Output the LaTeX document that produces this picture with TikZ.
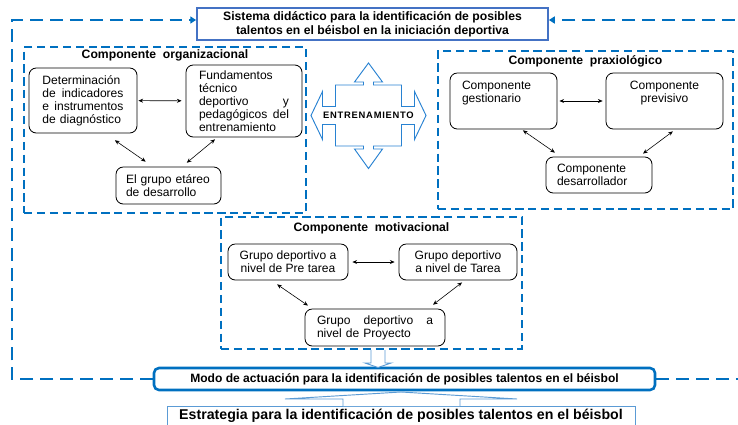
\documentclass[tikz,border=0pt]{standalone}
\usepackage{fontspec}
\setmainfont{Liberation Sans}
\usetikzlibrary{positioning,arrows.meta}

\definecolor{frameblue}{RGB}{0,112,192}
\definecolor{titleblue}{RGB}{68,114,196}
\definecolor{lightblue}{RGB}{91,155,213}
\definecolor{crossblue}{RGB}{40,130,210}

\tikzstyle{block} = [rectangle, rounded corners = 0.22cm, draw = black, 
	line width = 0.7pt, inner sep = 0pt, font = \fontsize{10.3}{11.2}\selectfont]
\tikzstyle{dashframe} = [rectangle, draw = frameblue, line width = 1.7pt, 
	dash pattern = on 7pt off 4pt]
\tikzstyle{frametitle} = [font = \fontsize{10.4}{12}\selectfont\bfseries]
\tikzstyle{loopline} = [draw = frameblue, line width = 2.2pt, 
	dash pattern = on 11pt off 6pt, -{Triangle[length = 5pt, width = 6pt]}]
\tikzstyle{arrow} = [line width = 0.5pt, 
	{Stealth[length = 4pt, width = 3.4pt]}-{Stealth[length = 4pt, width = 3.4pt]}]
\tikzstyle{blockarrow} = [draw = lightblue, line width = 0.8pt, fill = white]

\begin{document}
\begin{tikzpicture}[x = 0.03cm, y = -0.03cm]
\useasboundingbox (0,0) rectangle (738,424);

% frames of the three components
\node (OrgFrame) [dashframe, minimum width = 8.46cm, minimum height = 4.98cm] at (165,130) {};
\node (PraxFrame) [dashframe, minimum width = 8.85cm, minimum height = 4.74cm] at (585.5,130) {};
\node (MotFrame) [dashframe, minimum width = 9.03cm, minimum height = 3.96cm] at (371.5,283) {};

\node (OrgTitle) [frametitle, below = 0pt of OrgFrame.north] {Componente~~organizacional};
\node (PraxTitle) [frametitle, below = 1.4pt of PraxFrame.north] {Componente~~praxiológico};
\node (MotTitle) [frametitle, below = 2.2pt of MotFrame.north] {Componente~~motivacional};

\node (Sistema) [draw = titleblue, line width = 1.5pt, inner sep = 0pt, 
	minimum width = 10.53cm, minimum height = 0.96cm, align = center, 
	font = \fontsize{10.4}{12}\selectfont\bfseries] at (372.5,24)
	{Sistema didáctico para la identificación de posibles\\ talentos en el béisbol en la iniciación deportiva};

% Componente organizacional
\node (Det) [block, minimum width = 3.24cm, minimum height = 1.95cm, 
	text width = 2.43cm, align = left] at (83,100.5)
	{Determinación\\ de \hfill indicadores\\ e \hfill instrumentos\\ de diagnóstico};
\node (Fund) [block, minimum width = 3.48cm, minimum height = 2.16cm, 
	text width = 2.7cm, align = left] at (244,101)
	{Fundamentos\\ técnico\\ deportivo \hfill y\\ pedagógicos \hfill del\\ entrenamiento};
\node (Grupo) [block, minimum width = 3.15cm, minimum height = 1.11cm, 
	text width = 2.55cm, align = left] at (168.5,185.5)
	{El grupo etáreo\\ de desarrollo};

\draw [arrow, shorten <= 0.03cm, shorten >= 0.12cm] (Det) -- (Fund);
\draw [arrow, shorten <= 0.36cm, shorten >= 0.26cm] ([xshift = 0.66cm]Det.south) -- ([xshift = -0.47cm]Grupo.north);
\draw [arrow, shorten <= 0.09cm, shorten >= 0.18cm] ([xshift = -0.80cm]Fund.south) -- ([xshift = 0.41cm]Grupo.north);

% Componente praxiologico
\node (Gest) [block, minimum width = 3.21cm, minimum height = 1.68cm] at (503.5,101)
	{\parbox[t][1.2cm][t]{2.49cm}{Componente\\ gestionario}};
\node (Prev) [block, minimum width = 3.51cm, minimum height = 1.68cm] at (664.5,101)
	{\parbox[t][1.2cm][t]{3cm}{\centering Componente\\ previsivo}};
\node (Des) [block, minimum width = 3.18cm, minimum height = 1.08cm, 
	text width = 2.52cm, align = left] at (599,175)
	{Componente\\ desarrollador};

\draw [arrow, shorten <= 0.06cm, shorten >= 0.09cm] (Gest) -- (Prev);
\draw [arrow, shorten <= 0.05cm, shorten >= 0.21cm] ([xshift = 0.54cm]Gest.south) -- ([xshift = -1.15cm]Des.north);
\draw [arrow, shorten <= 0.1cm, shorten >= 0.15cm] ([xshift = 0.33cm]Prev.south) -- ([xshift = 1.20cm]Des.north);

% Componente motivacional
\node (Pre) [block, minimum width = 3.6cm, minimum height = 1.08cm, align = center] at (288,262)
	{Grupo deportivo a\\ nivel de Pre tarea};
\node (Tarea) [block, minimum width = 3.54cm, minimum height = 1.08cm, align = center] at (458,262)
	{Grupo deportivo\\ a nivel de Tarea};
\node (Proy) [block, minimum width = 4.2cm, minimum height = 1.11cm, 
	text width = 3.48cm, align = left] at (375,327.5)
	{Grupo \hfill deportivo \hfill a\\ nivel de Proyecto};

\draw [arrow, shorten <= 0.12cm, shorten >= 0.12cm] (Pre) -- (Tarea);
\draw [arrow, shorten <= 0.21cm, shorten >= 0.16cm] ([xshift = -0.50cm]Pre.south) -- ([xshift = -1.88cm]Proy.north);
\draw [arrow, shorten <= 0.1cm, shorten >= 0.19cm] ([xshift = 0.20cm]Tarea.south) -- ([xshift = 1.59cm]Proy.north);

% ENTRENAMIENTO cross
\draw [draw = crossblue, line width = 0.8pt, fill = white, shift = {(368.5,115.5)}]
	(-57.5,0) -- (-46,-24) -- (-46,-9) -- (-33,-9) -- (-33,-30.5) -- (-5,-30.5) 
	-- (-5,-33.5) -- (-14,-33.5) -- (0,-52.5) -- (14,-33.5) -- (5,-33.5) -- (5,-30.5) 
	-- (33,-30.5) -- (33,-9) -- (46,-9) -- (46,-24) -- (57.5,0) -- (46,24) -- (46,9) 
	-- (33,9) -- (33,30.5) -- (5,30.5) -- (5,33.5) -- (14,33.5) -- (0,53) -- (-14,33.5) 
	-- (-5,33.5) -- (-5,30.5) -- (-33,30.5) -- (-33,9) -- (-46,9) -- (-46,24) -- cycle;
\node (Ent) [inner sep = 0pt, font = \fontsize{8}{9}\selectfont\bfseries\addfontfeature{LetterSpace = 8}] 
	at (368.5,115.5) {ENTRENAMIENTO};

% bottom
\node (Modo) [draw = frameblue, line width = 2.2pt, rounded corners = 0.15cm, inner sep = 0pt, 
	minimum width = 15.03cm, minimum height = 0.66cm, 
	font = \fontsize{10.3}{12}\selectfont\bfseries] at (404.5,379)
	{Modo de actuación para la identificación de posibles talentos en el béisbol};
\node (Estr) [draw = lightblue, line width = 0.8pt, inner sep = 0pt, 
	minimum width = 14.04cm, minimum height = 0.6cm, 
	font = \fontsize{12.1}{14}\selectfont\bfseries] at (401,416)
	{Estrategia para la identificación de posibles talentos en el béisbol};

\draw [blockarrow] (371,350) -- (371,363) -- (365,363) -- (378,367.5) -- (391,363) -- (385,363) -- (385,350);
\draw [blockarrow] (343,406) -- (343,399) -- (285,399) -- (401,392) -- (517,399) -- (460,399) -- (460,406);

% loop back to the system
\coordinate (FTL) at (12,20);
\coordinate (FTR) at (745,20);
\draw [loopline] (Modo.west) -| (FTL) -- (FTL -| Sistema.west);
\draw [loopline] (Modo.east) -| (FTR) -- (FTR -| Sistema.east);
\end{tikzpicture}
\end{document}
